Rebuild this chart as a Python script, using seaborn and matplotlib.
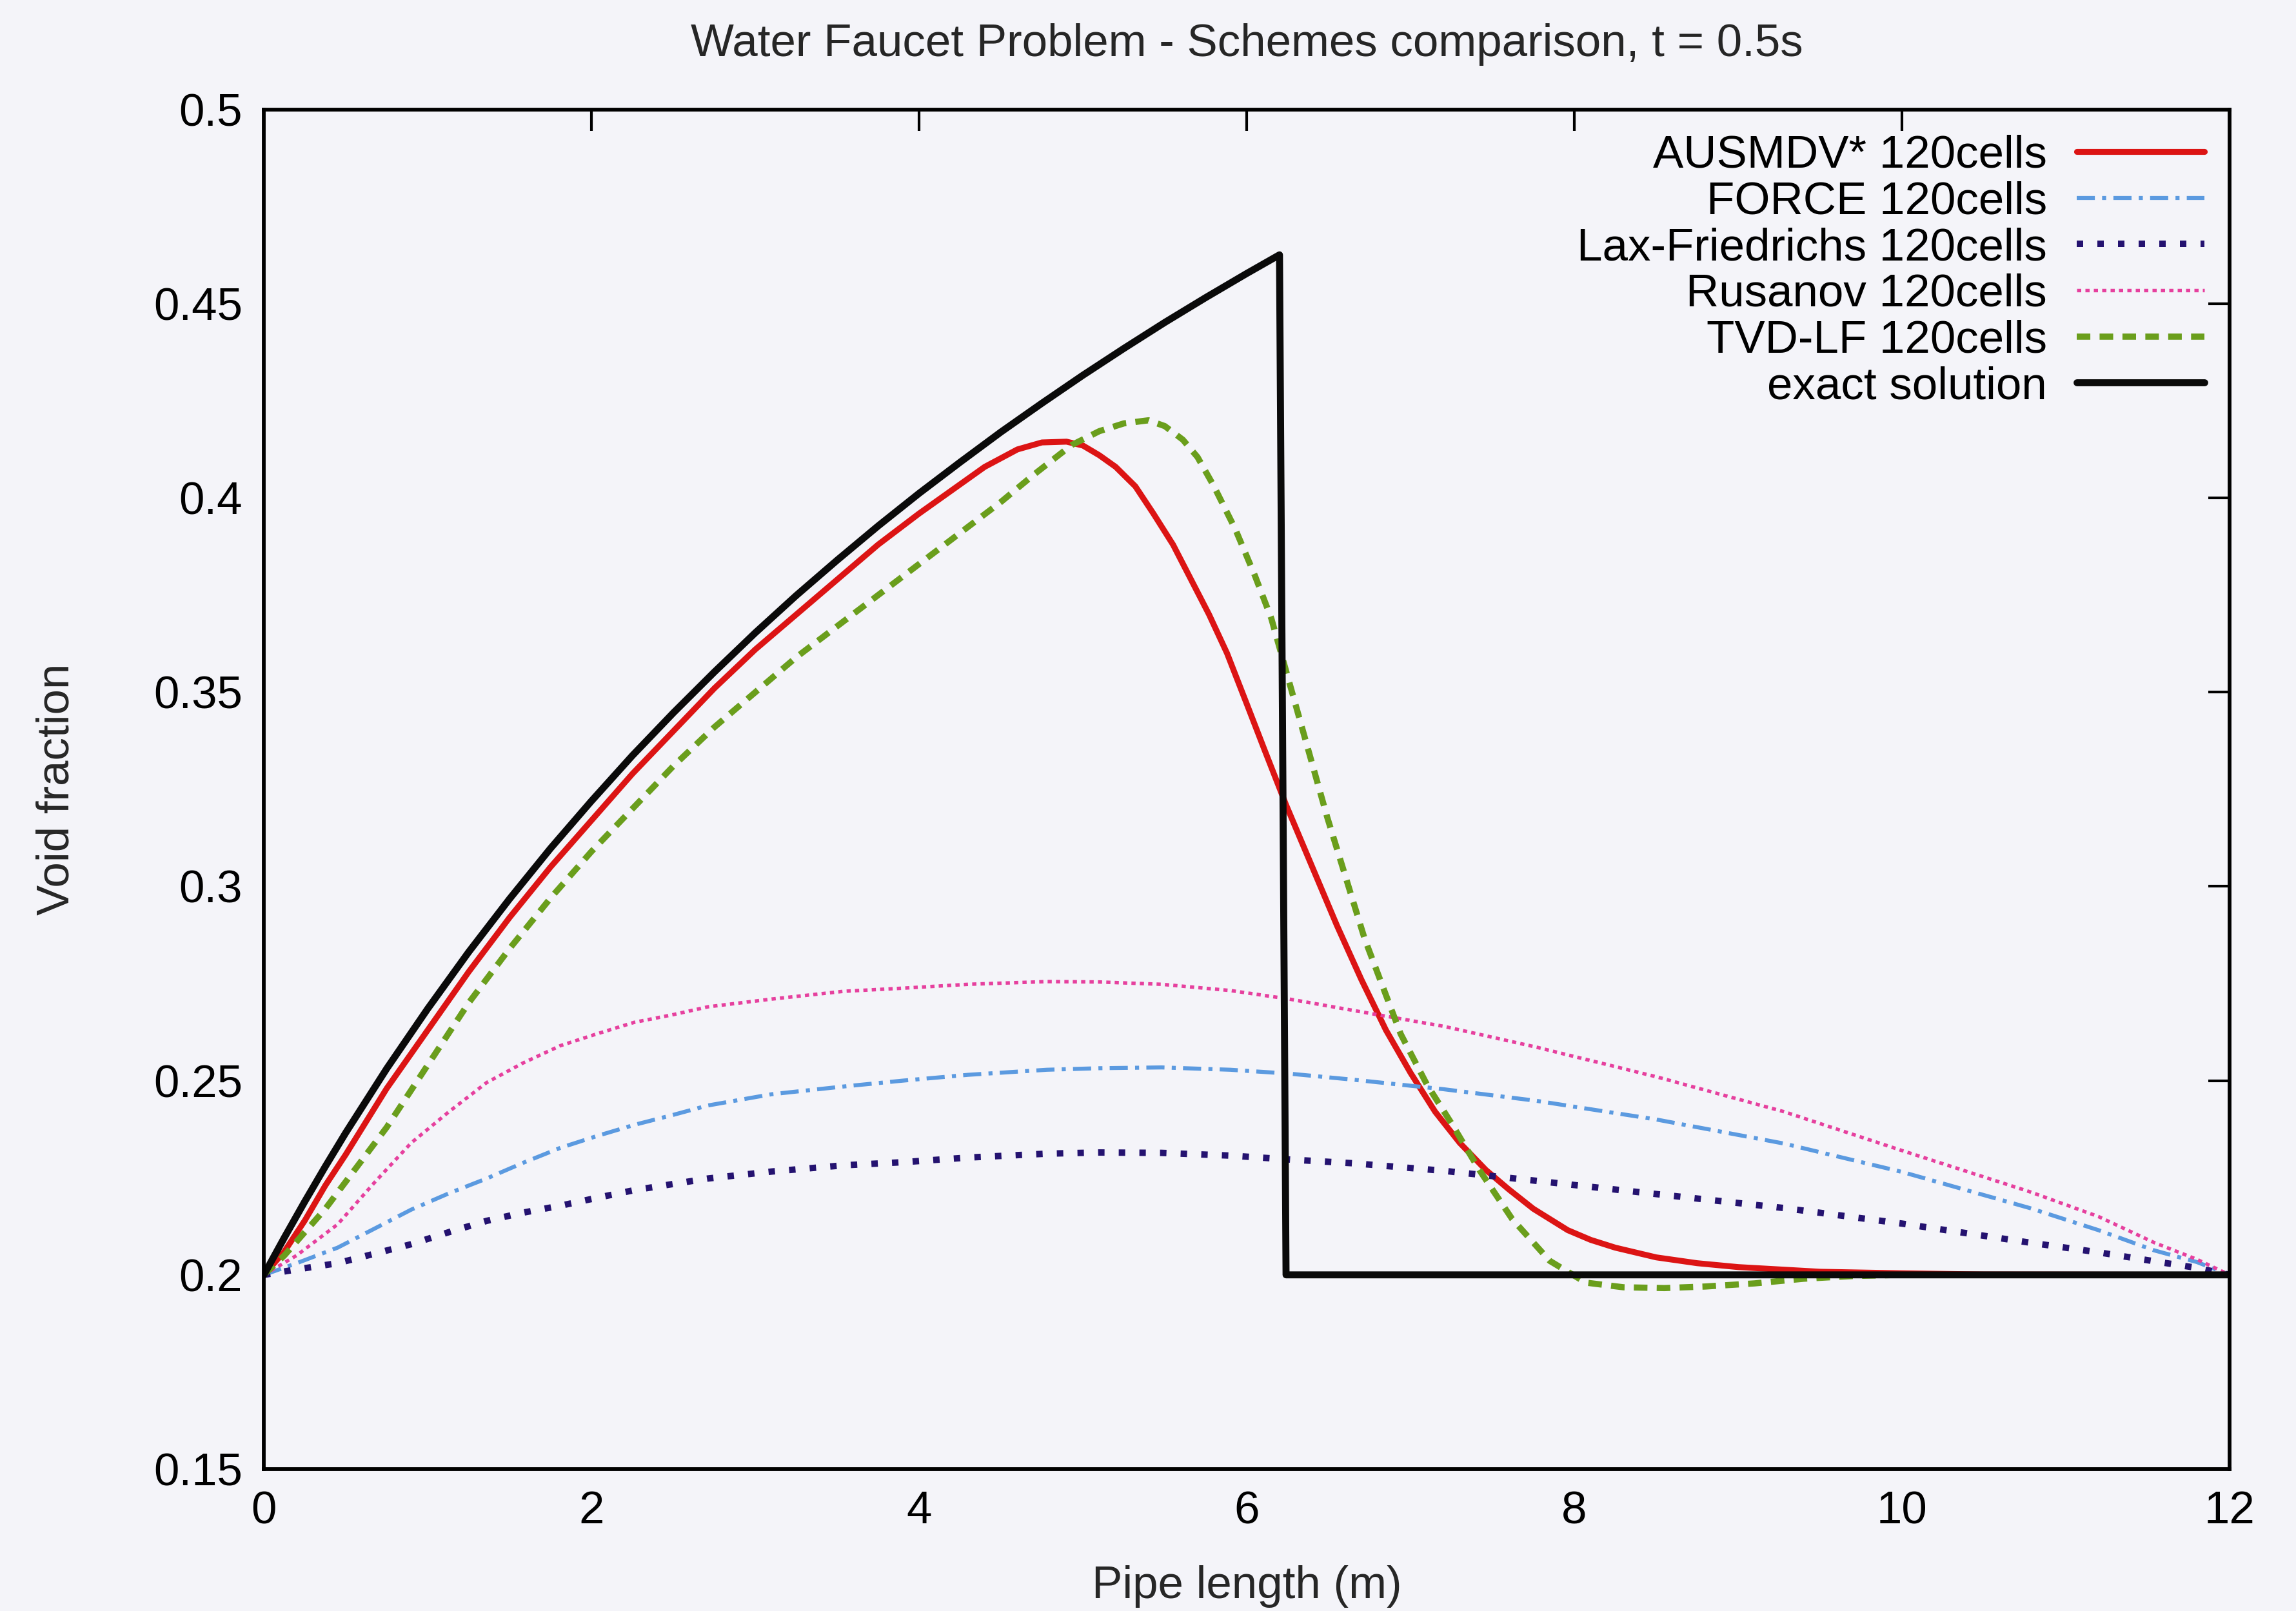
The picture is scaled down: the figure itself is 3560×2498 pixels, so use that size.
import matplotlib
matplotlib.use("Agg")
import matplotlib.pyplot as plt
import seaborn as sns

# Void fraction along the pipe at t = 0.5 s for each numerical scheme
x_exact = [0.0, 0.125, 0.25, 0.375, 0.5, 0.75, 1.0, 1.25, 1.5, 1.75, 2.0,
           2.25, 2.5, 2.75, 3.0, 3.25, 3.5, 3.75, 4.0, 4.25, 4.5, 4.75, 5.0,
           5.25, 5.5, 5.75, 6.0, 6.2, 6.24, 12.0]
y_exact = [0.2000, 0.2096, 0.2189, 0.2279, 0.2366, 0.2531, 0.2685, 0.2831,
           0.2968, 0.3098, 0.3220, 0.3337, 0.3447, 0.3552, 0.3653, 0.3749,
           0.3840, 0.3928, 0.4012, 0.4092, 0.4170, 0.4244, 0.4316, 0.4385,
           0.4452, 0.4516, 0.4578, 0.4626, 0.2000, 0.2000]

x_ausmdv = [0.0, 0.125, 0.25, 0.375, 0.5, 0.75, 1.0, 1.25, 1.5, 1.75, 2.0,
            2.25, 2.5, 2.75, 3.0, 3.25, 3.5, 3.75, 4.0, 4.2, 4.4, 4.6, 4.75,
            4.9, 5.0, 5.1, 5.2, 5.32, 5.43, 5.55, 5.66, 5.77, 5.88, 6.0, 6.11,
            6.24, 6.4, 6.55, 6.7, 6.85, 7.0, 7.15, 7.3, 7.46, 7.6, 7.75, 7.96,
            8.1, 8.25, 8.5, 8.75, 9.0, 9.5, 10.0, 10.5, 12.0]
y_ausmdv = [0.200, 0.206, 0.214, 0.223, 0.231, 0.248, 0.263, 0.278, 0.292,
            0.305, 0.317, 0.329, 0.340, 0.351, 0.361, 0.370, 0.379, 0.388,
            0.396, 0.402, 0.408, 0.4125, 0.4143, 0.4145, 0.4135, 0.411, 0.408,
            0.403, 0.396, 0.388, 0.379, 0.370, 0.360, 0.347, 0.335, 0.321,
            0.305, 0.290, 0.276, 0.263, 0.252, 0.242, 0.234, 0.227, 0.222,
            0.217, 0.2115, 0.209, 0.207, 0.2045, 0.203, 0.202, 0.2008, 0.2004,
            0.2001, 0.200]

x_tvdlf = [0.0, 0.125, 0.25, 0.375, 0.5, 0.75, 1.0, 1.25, 1.5, 1.75, 2.0,
           2.25, 2.5, 2.75, 3.0, 3.25, 3.5, 3.75, 4.0, 4.25, 4.5, 4.7, 4.93,
           5.1, 5.25, 5.4, 5.5, 5.61, 5.7, 5.8, 5.93, 6.05, 6.15, 6.27, 6.49,
           6.72, 6.94, 7.1, 7.25, 7.42, 7.62, 7.85, 8.07, 8.3, 8.55, 8.8, 9.1,
           9.4, 9.7, 10.0, 12.0]
y_tvdlf = [0.200, 0.205, 0.211, 0.217, 0.224, 0.238, 0.254, 0.270, 0.284,
           0.297, 0.309, 0.320, 0.331, 0.341, 0.350, 0.359, 0.367, 0.375,
           0.383, 0.391, 0.399, 0.406, 0.4136, 0.4172, 0.4192, 0.4200,
           0.4185, 0.4150, 0.4105, 0.403, 0.392, 0.380, 0.369, 0.351, 0.318,
           0.2865, 0.262, 0.249, 0.239, 0.227, 0.2144, 0.2036, 0.198, 0.1968,
           0.1966, 0.1970, 0.1978, 0.1990, 0.1997, 0.200, 0.200]

x_diffusive = [0.0, 0.2, 0.45, 0.68, 0.9, 1.13, 1.36, 1.58, 1.81, 2.03, 2.26,
               2.5, 2.71, 3.1, 3.54, 3.9, 4.3, 4.78, 5.1, 5.48, 5.9, 6.26,
               6.66, 7.2, 7.77, 8.5, 9.28, 10.0, 10.78, 11.2, 11.54, 11.8,
               12.0]
y_rusanov = [0.200, 0.205, 0.213, 0.224, 0.234, 0.242, 0.2495, 0.2545, 0.259,
             0.262, 0.265, 0.267, 0.269, 0.271, 0.273, 0.2738, 0.2748, 0.2755,
             0.2754, 0.2748, 0.2732, 0.271, 0.268, 0.264, 0.2586, 0.251,
             0.242, 0.232, 0.2214, 0.215, 0.2083, 0.204, 0.200]
y_force = [0.200, 0.203, 0.207, 0.212, 0.2168, 0.221, 0.2248, 0.2288, 0.2327,
           0.2357, 0.2386, 0.2412, 0.2436, 0.2465, 0.2485, 0.250, 0.2515,
           0.2528, 0.2532, 0.2534, 0.2528, 0.2518, 0.2502, 0.2478, 0.2448,
           0.240, 0.2338, 0.2265, 0.2172, 0.2115, 0.2063, 0.2033, 0.200]
y_laxf = [0.200, 0.2014, 0.203, 0.2055, 0.2079, 0.211, 0.2139, 0.216, 0.2178,
          0.2198, 0.2218, 0.2234, 0.2248, 0.2266, 0.2282, 0.229, 0.2302,
          0.2312, 0.2315, 0.2314, 0.2307, 0.2297, 0.2287, 0.2268, 0.2242,
          0.2208, 0.2172, 0.2132, 0.2083, 0.2058, 0.2035, 0.2018, 0.200]

labels = ["AUSMDV* 120cells", "FORCE 120cells", "Lax-Friedrichs 120cells",
          "Rusanov 120cells", "TVD-LF 120cells", "exact solution"]
x_ticks = [0, 2, 4, 6, 8, 10, 12]
y_ticks = [0.15, 0.2, 0.25, 0.3, 0.35, 0.4, 0.45, 0.5]
y_tick_labels = ["0.15", "0.2", "0.25", "0.3", "0.35", "0.4", "0.45", "0.5"]

sns.set_style("white")
plt.rcParams["font.family"] = ["Liberation Sans", "DejaVu Sans"]
bg = "#f4f4f9"
fs = 17

fig = plt.figure(figsize=(3561 / 300, 2498 / 300), dpi=300, facecolor=bg)
ax = fig.add_axes([0.1149, 0.0881, 0.8559, 0.8439], facecolor=bg)

series = [
    (x_ausmdv, y_ausmdv, dict(color="#dc1414", lw=2.2, linestyle="-")),
    (x_diffusive, y_force, dict(color="#5b9ae0", lw=1.5, dashes=(4.5, 1.8, 1.0, 1.8))),
    (x_diffusive, y_laxf, dict(color="#241270", lw=2.4, dashes=(1.0, 2.2))),
    (x_diffusive, y_rusanov, dict(color="#e6409e", lw=1.3, dashes=(1.2, 1.2))),
    (x_tvdlf, y_tvdlf, dict(color="#6a9e1c", lw=2.3, dashes=(2.2, 1.5))),
    (x_exact, y_exact, dict(color="#0a0a0a", lw=2.6, linestyle="-")),
]

for (xs, ys, style), lab in zip(series, labels):
    sns.lineplot(x=xs, y=ys, ax=ax, label=lab, sort=False, estimator=None,
                 **style)

ax.set_xlim(0, 12)
ax.set_ylim(0.15, 0.5)
ax.set_xticks(x_ticks)
ax.set_xticklabels([str(t) for t in x_ticks])
ax.set_yticks(y_ticks)
ax.set_yticklabels(y_tick_labels)
ax.tick_params(direction="in", length=8, width=1.0, labelsize=fs, pad=8,
               top=True, right=True, colors="black")
for s in ax.spines.values():
    s.set_visible(True)
    s.set_linewidth(1.4)
    s.set_color("black")

ax.set_title("Water Faucet Problem - Schemes comparison, t = 0.5s",
             fontsize=fs, pad=20)
ax.set_xlabel("Pipe length (m)", fontsize=fs, labelpad=12)
ax.set_ylabel("Void fraction", fontsize=fs, labelpad=28)

leg = ax.legend(loc="upper right", frameon=False, markerfirst=False,
                fontsize=fs, handlelength=2.8, handletextpad=0.65,
                labelspacing=0.08, borderaxespad=0.15)

# labels sit right-aligned against their line samples
fig.canvas.draw()
renderer = fig.canvas.get_renderer()
W, H = fig.bbox.width, fig.bbox.height
text_boxes = [t.get_window_extent(renderer) for t in leg.get_texts()]
right_edge = max(b.x1 for b in text_boxes)
for t, b in zip(leg.get_texts(), text_boxes):
    t.set_visible(False)
    fig.text(right_edge / W, (b.y0 + b.y1) / 2 / H, t.get_text(),
             ha="right", va="center", fontsize=fs, color="black")

fig.savefig("out.png", dpi=300, facecolor=bg)
